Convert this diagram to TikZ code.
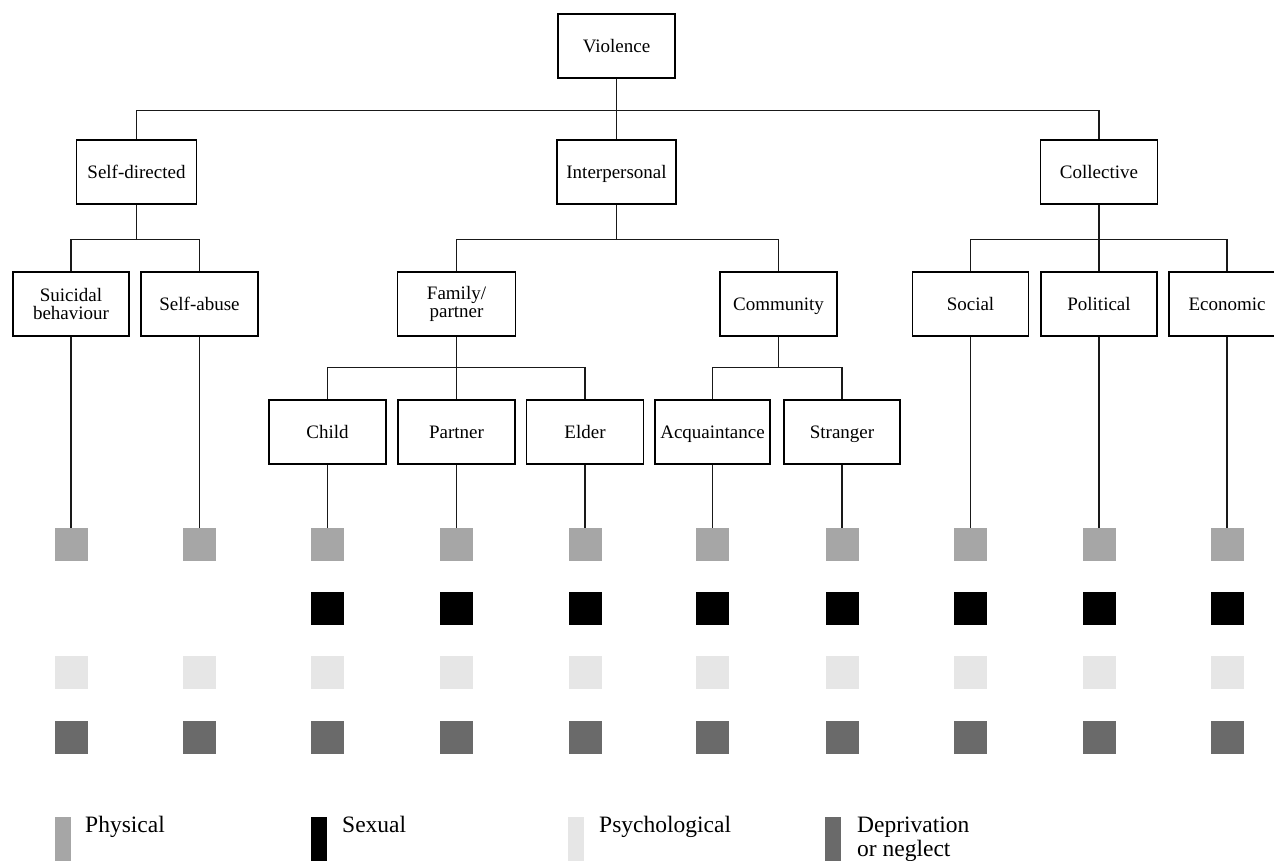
\documentclass[tikz,border=0pt]{standalone}
\usepackage{fontspec}
\setmainfont{Liberation Serif}
\definecolor{physc}{HTML}{A6A6A6}
\definecolor{psyc}{HTML}{E6E6E6}
\definecolor{depc}{HTML}{6A6A6A}
\tikzset{
  tbox/.style={draw=black, line width=1.3pt, fill=white, minimum width=117pt, minimum height=64pt,
    inner sep=0pt, align=center, font=\fontsize{19}{18}\selectfont},
  one/.style={text height=13pt, text depth=0pt},
  conn/.style={draw=black!90, line width=1.3pt},
  sq/.style={minimum width=33pt, minimum height=33pt, inner sep=0pt, draw=none},
  phys/.style={sq, fill=physc},
  sexl/.style={sq, fill=black},
  psych/.style={sq, fill=psyc},
  depr/.style={sq, fill=depc},
  lbar/.style={minimum width=16pt, minimum height=44pt, inner sep=0pt, draw=none, anchor=north west},
  ltext/.style={anchor=base west, inner sep=0pt, align=left, font=\fontsize{23.5}{24}\selectfont}
}
\begin{document}
\begin{tikzpicture}[x=1pt,y=-1pt]
\useasboundingbox (0,0) rectangle (1274,861);
\clip (0,0) rectangle (1274,861);
% level 1
\node[tbox, one] (v) at (616.5,46) {Violence};
% level 2
\node[tbox, one, minimum width=120pt] (sd) at (136.5,172) {Self-directed};
\node[tbox, one, minimum width=119pt] (ip) at (616.5,172) {Interpersonal};
\node[tbox, one] (co) at (1099,172) {Collective};
% level 3
\node[tbox, minimum width=116pt] (su) at (71,304) {Suicidal\\behaviour};
\node[tbox, one] (sa) at (199.5,304) {Self-abuse};
\node[tbox, minimum width=118pt] (fp) at (456.5,304) {Family/\\partner};
\node[tbox, one] (cm) at (778.5,304) {Community};
\node[tbox, one, minimum width=116pt] (so) at (970.5,304) {Social};
\node[tbox, one, minimum width=116pt] (po) at (1099,304) {Political};
\node[tbox, one, minimum width=116pt] (ec) at (1227,304) {Economic};
% level 4
\node[tbox, one] (ch) at (327.5,432) {Child};
\node[tbox, one] (pa) at (456.5,432) {Partner};
\node[tbox, one] (el) at (585,432) {Elder};
\node[tbox, one, minimum width=115pt] (ac) at (712.5,432) {Acquaintance};
\node[tbox, one, minimum width=116pt] (st) at (842,432) {Stranger};
% tree connectors
\draw[conn] (v.south) -- ++(0,32) -| (sd.north);
\draw[conn] (v.south) -- (ip.north);
\draw[conn] (v.south) -- ++(0,32) -| (co.north);
\draw[conn] (sd.south) -- ++(0,35) -| (su.north);
\draw[conn] (sd.south) -- ++(0,35) -| (sa.north);
\draw[conn] (ip.south) -- ++(0,35) -| (fp.north);
\draw[conn] (ip.south) -- ++(0,35) -| (cm.north);
\draw[conn] (co.south) -- ++(0,35) -| (so.north);
\draw[conn] (co.south) -- (po.north);
\draw[conn] (co.south) -- ++(0,35) -| (ec.north);
\draw[conn] (fp.south) -- ++(0,31) -| (ch.north);
\draw[conn] (fp.south) -- (pa.north);
\draw[conn] (fp.south) -- ++(0,31) -| (el.north);
\draw[conn] (cm.south) -- ++(0,31) -| (ac.north);
\draw[conn] (cm.south) -- ++(0,31) -| (st.north);
% squares
\foreach \n/\x/\top in {1/71/su,2/199.5/sa,3/327.5/ch,4/456.5/pa,5/585/el,6/712.5/ac,7/842/st,8/970.5/so,9/1099/po,10/1227/ec}{
  \node[phys] (p\n) at (\x,544.5) {};
  \node[psych] (q\n) at (\x,672.5) {};
  \node[depr] (d\n) at (\x,737.5) {};
  \draw[conn] (\top.south) -- (p\n.north);
}
\foreach \n/\x in {3/327.5,4/456.5,5/585,6/712.5,7/842,8/970.5,9/1099,10/1227}{
  \node[sexl] (s\n) at (\x,608.5) {};
}
% legend
\node[lbar, fill=physc] (lb1) at (55,817) {};
\node[ltext] (lt1) at (85,832) {Physical};
\node[lbar, fill=black] (lb2) at (311,817) {};
\node[ltext] (lt2) at (342,832) {Sexual};
\node[lbar, fill=psyc] (lb3) at (568,817) {};
\node[ltext] (lt3) at (599,832) {Psychological};
\node[lbar, fill=depc] (lb4) at (825,817) {};
\node[ltext] (lt4) at (857,856) {Deprivation\\or neglect};
\end{tikzpicture}
\end{document}
